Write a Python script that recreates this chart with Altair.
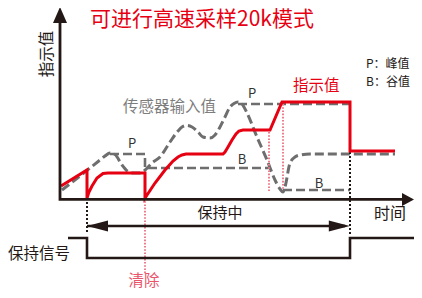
import altair as alt
import pandas as pd

# ---------------- data (t = time units, v = value units) ----------------
red_t = [1, 27, 27, 29, 32, 37, 43, 48, 85, 85, 95, 105, 113, 118, 122, 126, 163, 165, 168, 172, 176, 179, 183, 210, 222, 290, 290, 335]
red_v = [12, 28, 0, 6, 12, 20, 24.5, 25, 25, 0, 15, 28, 37, 41, 43, 44, 44, 46, 51, 58, 64, 67, 68, 68, 96, 96, 47, 47]

sensor_t = [2, 20, 40, 45, 50, 55, 62, 68, 73, 80, 84, 92, 100, 110, 118, 122, 127, 132, 138, 143, 150, 155, 160, 165, 170, 174, 178, 182, 187, 197, 207, 215, 220, 223, 225, 230, 235, 240, 250, 335]
sensor_v = [8, 22, 38, 42, 45, 43.5, 33, 26.5, 25, 25, 27, 35, 41, 56, 67, 71, 72.5, 71, 66, 61, 60, 63, 71, 81, 91, 94.5, 96, 94, 85, 61, 38, 18, 9, 6, 11, 35, 41, 43, 44, 44]

# peak / bottom hold levels (segment id, t, v)
hold_seg = [0, 0, 0, 0, 1, 1, 2, 2]
hold_t = [50, 85, 85, 210, 178, 290, 223, 290]
hold_v = [44, 44, 30, 30, 94, 94, 8, 8]

# hold signal
sig_t = [8, 27, 27, 290, 290, 362]
sig_v = [-40, -40, -60, -60, -40, -40]

# dotted markers
blk_seg = [0, 0, 1, 1]
blk_t = [27, 27, 290, 290]
blk_v = [0, -36, 46, -37]
pink_seg = [0, 0, 1, 1, 2, 2]
pink_t = [85, 85, 209, 209, 223, 223]
pink_v = [0, -76, 66, 7, 94, 9]

hold_range_t = [27, 285]
hold_range_v = [-28, -28]

title_text = "可进行高速采样20k模式"
labels = {
    "y_label": "指示值",
    "sensor": "传感器输入值",
    "legend_p": "P：峰值",
    "legend_b": "B：谷值",
    "indicator": "指示值",
    "holding": "保持中",
    "time": "时间",
    "hold_signal": "保持信号",
    "clear": "清除",
}

# ---------------- styles ----------------
FONT = "Noto Sans CJK SC"
BLACK = "#231815"
RED = "#E60012"
GRAY = "#6e6e6e"
PINK = "#EE7C8C"

xs = alt.Scale(domain=[-52, 354], nice=False, zero=False)
ys = alt.Scale(domain=[-92, 190], nice=False, zero=False)


def mk(seg=False):
    enc = dict(
        x=alt.X("t:Q", scale=xs, axis=None),
        y=alt.Y("v:Q", scale=ys, axis=None),
        order=alt.Order("i:Q"),
    )
    if seg:
        enc["detail"] = alt.Detail("seg:N")
    return enc


def frame(t, v, seg=None):
    d = {"t": t, "v": v, "i": list(range(len(t)))}
    if seg is not None:
        d["seg"] = seg
    return pd.DataFrame(d)


layers = []

# gray sensor curve
layers.append(alt.Chart(frame(sensor_t, sensor_v)).mark_line(
    color=GRAY, strokeWidth=3, strokeDash=[9, 4], interpolate="monotone"
).encode(**mk()))

# peak/bottom hold dashed lines
layers.append(alt.Chart(frame(hold_t, hold_v, hold_seg)).mark_line(
    color=GRAY, strokeWidth=2.6, strokeDash=[9, 4]
).encode(**mk(True)))

# pink dotted
layers.append(alt.Chart(frame(pink_t, pink_v, pink_seg)).mark_line(
    color=PINK, strokeWidth=2, strokeDash=[1.6, 1.6]
).encode(**mk(True)))

# black dotted
layers.append(alt.Chart(frame(blk_t, blk_v, blk_seg)).mark_line(
    color=BLACK, strokeWidth=2, strokeDash=[2, 2]
).encode(**mk(True)))

# red indicator
layers.append(alt.Chart(frame(red_t, red_v)).mark_line(
    color=RED, strokeWidth=3, strokeJoin="miter"
).encode(**mk()))

# axes
layers.append(alt.Chart(frame([0, 0, 345], [178, -1.4, -1.4])).mark_line(
    color=BLACK, strokeWidth=2.8, strokeJoin="miter"
).encode(**mk()))

# hold signal
layers.append(alt.Chart(frame(sig_t, sig_v)).mark_line(
    color=BLACK, strokeWidth=2.6, strokeJoin="miter"
).encode(**mk()))

# hold range line
layers.append(alt.Chart(frame(hold_range_t, hold_range_v)).mark_line(
    color=BLACK, strokeWidth=2.6
).encode(**mk()))

# arrowheads
def arrow(t, v, shape, size):
    return alt.Chart(pd.DataFrame({"t": [t], "v": [v]})).mark_point(
        shape=shape, size=size, filled=True, color=BLACK, opacity=1, strokeWidth=0
    ).encode(x=alt.X("t:Q", scale=xs, axis=None), y=alt.Y("v:Q", scale=ys, axis=None))

layers.append(arrow(0, 183, "M0,-1L0.875,1L-0.875,1Z", 256))
layers.append(arrow(348, -1.4, "M1,0L-1,-1.08L-1,1.08Z", 144))
layers.append(arrow(37.5, -28, "M-1,0L1,-0.52L1,0.52Z", 441))
layers.append(arrow(279.3, -28, "M1,0L-1,-0.52L-1,0.52Z", 441))


def text(s, t, v, size, color, align="left", angle=0):
    kw = dict(text=s, font=FONT, fontSize=size, color=color, align=align, baseline="middle")
    if angle:
        kw["angle"] = angle
    return alt.Chart(pd.DataFrame({"t": [t], "v": [v]})).mark_text(**kw).encode(
        x=alt.X("t:Q", scale=xs, axis=None), y=alt.Y("v:Q", scale=ys, axis=None))

layers.append(text(title_text, 30, 178, 21, RED))
layers.append(text(labels["y_label"], -13.5, 144, 15.5, BLACK, "center", 270))
layers.append(text(labels["sensor"], 63, 91, 15.5, "#7d7d7d"))
layers.append(text(labels["legend_p"], 306, 134, 12, BLACK))
layers.append(text(labels["legend_b"], 306, 116, 12, BLACK))
layers.append(text(labels["indicator"], 233, 112, 15.5, RED))
layers.append(text("P", 72, 54, 13, "#333333", "center"))
layers.append(text("B", 182, 38, 13, "#333333", "center"))
layers.append(text("P", 192, 104, 13, "#333333", "center"))
layers.append(text("B", 259, 14, 13, "#333333", "center"))
layers.append(text(labels["holding"], 160, -15, 15, BLACK, "center"))
layers.append(text(labels["time"], 314, -16, 16, BLACK))
layers.append(text(labels["hold_signal"], -52, -56, 15.5, BLACK))
layers.append(text(labels["clear"], 84, -83.3, 15.5, "#E9546B", "center"))

chart = alt.layer(*layers).properties(
    width=406, height=282, padding=0, autosize=alt.AutoSizeParams(type="none")
).configure_view(stroke=None)

chart.save("out.html", embed_options={"renderer": "svg", "actions": False})
